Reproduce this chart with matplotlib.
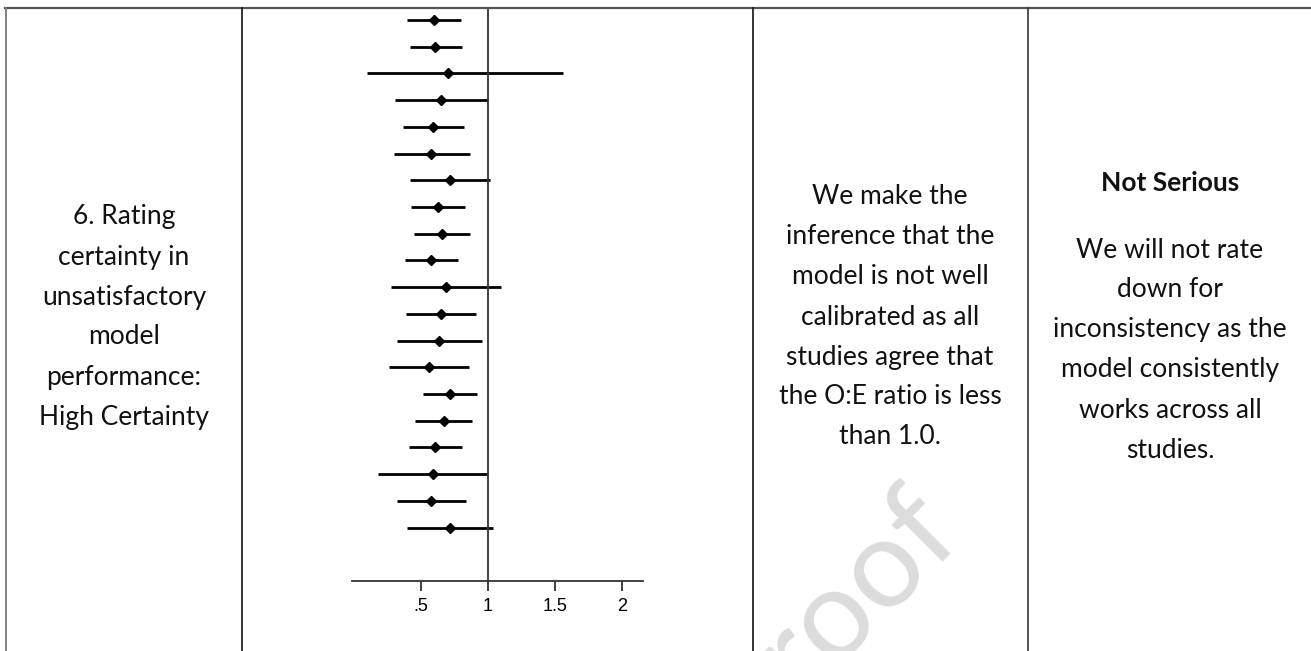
import matplotlib.pyplot as plt
from matplotlib.lines import Line2D

# study estimates (O:E ratio) with 95% CI, top to bottom
est = [0.60, 0.61, 0.70, 0.65, 0.59, 0.58, 0.72, 0.63, 0.66, 0.58,
       0.69, 0.65, 0.64, 0.56, 0.72, 0.67, 0.61, 0.59, 0.58, 0.72]
lo = [0.40, 0.42, 0.10, 0.31, 0.37, 0.30, 0.42, 0.43, 0.45, 0.38,
      0.28, 0.39, 0.32, 0.26, 0.52, 0.46, 0.41, 0.18, 0.32, 0.40]
hi = [0.80, 0.81, 1.56, 1.00, 0.82, 0.87, 1.02, 0.83, 0.87, 0.78,
      1.10, 0.91, 0.96, 0.86, 0.92, 0.88, 0.81, 1.00, 0.84, 1.04]
rows = list(range(1, len(est) + 1))

xticks = [0.5, 1, 1.5, 2]
xticklabels = [".5", "1", "1.5", "2"]

left_lines = ["6. Rating", "certainty in", "unsatisfactory", "model",
              "performance:", "High Certainty"]
mid_lines = ["We make the", "inference that the", "model is not well",
             "calibrated as all", "studies agree that",
             "the O:E ratio is less", "than 1.0."]
right_title = "Not Serious"
right_lines = ["We will not rate", "down for", "inconsistency as the",
               "model consistently", "works across all", "studies."]

W, H = 1311, 651
fig = plt.figure(figsize=(W / 100, H / 100), dpi=100)

# watermark
fig.text(965 / W, 1 - 540 / H, "Journal Pre-proof", rotation=45,
         rotation_mode="anchor", ha="right", va="baseline",
         fontsize=90, color="#dcdcdc", family="Lato", zorder=0,
         clip_on=True)

# forest plot
ax = fig.add_axes([352 / W, 70 / H, 291 / W, 573 / H])
ax.patch.set_alpha(0)
ax.hlines(rows, lo, hi, color="black", lw=2.0)
ax.plot(est, rows, "D", color="black", markersize=5.5)
ax.axvline(1, color="#333333", lw=1.3)
ax.set_xlim(-0.013, 2.159)
ax.set_ylim(22.0, 0.55)
for s in ["left", "right", "top"]:
    ax.spines[s].set_visible(False)
ax.spines["bottom"].set_linewidth(1.3)
ax.spines["bottom"].set_color("#333333")
ax.set_yticks([])
ax.set_xticks(xticks)
ax.set_xticklabels(xticklabels, family="Liberation Sans", fontsize=13)
ax.tick_params(axis="x", length=7, width=1.3, color="#333333", pad=5)

# table grid
top = 1 - 7.5 / H
fig.add_artist(Line2D([5 / W, 1], [top, top], color="#555555", lw=1.6))
for x, c in [(5.5, "#777777"), (242, "#222222"), (753, "#222222"), (1028, "#444444")]:
    fig.add_artist(Line2D([x / W, x / W], [0, top], color=c, lw=1.3))

font = dict(family="Lato", fontsize=19, color="#111111", ha="center", va="center")
for i, t in enumerate(left_lines):
    fig.text(124 / W, 1 - (217 + 40 * i) / H, t, **font)
for i, t in enumerate(mid_lines):
    fig.text(890 / W, 1 - (197 + 40 * i) / H, t, **font)
fig.text(1170 / W, 1 - 183 / H, right_title, weight="bold", **font)
for i, t in enumerate(right_lines):
    fig.text(1170 / W, 1 - (250 + 40 * i) / H, t, **font)

fig.savefig("out.png", dpi=100)
